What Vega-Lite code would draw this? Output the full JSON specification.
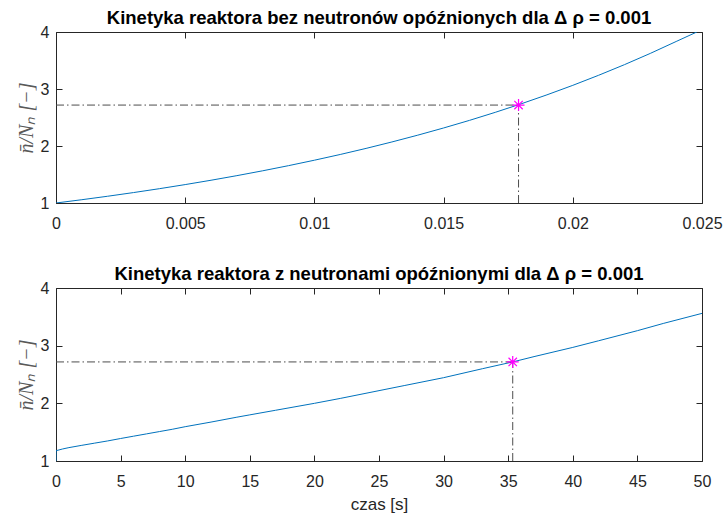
{
  "$schema": "https://vega.github.io/schema/vega-lite/v6.json",
  "background": "white",
  "padding": {"left": 15, "top": 8, "right": 1, "bottom": 4},
  "bounds": "flush",
  "spacing": 85,
  "config": {
    "view": {"stroke": "#262626", "strokeWidth": 1},
    "axis": {
      "labelFont": "Liberation Sans",
      "labelFontSize": 16,
      "labelColor": "#262626",
      "tickColor": "#262626",
      "tickSize": -6,
      "domain": false,
      "grid": false,
      "labelFlush": false,
      "labelOverlap": false,
      "titleFont": "Liberation Serif",
      "titleFontStyle": "italic",
      "titleFontWeight": "normal",
      "titleFontSize": 20,
      "titleColor": "#595959"
    },
    "axisX": {"labelPadding": 18},
    "axisY": {"labelPadding": 13},
    "title": {"font": "Liberation Sans", "fontSize": 18.5, "fontWeight": "bold", "color": "#000000", "offset": -3}
  },
  "datasets": {
    "fast": [
      {"t": 0, "n": 1.0}, {"t": 0.001, "n": 1.0576}, {"t": 0.002, "n": 1.1185}, {"t": 0.003, "n": 1.1829},
      {"t": 0.004, "n": 1.251}, {"t": 0.005, "n": 1.3231}, {"t": 0.006, "n": 1.3993}, {"t": 0.007, "n": 1.4798},
      {"t": 0.008, "n": 1.5651}, {"t": 0.009, "n": 1.6552}, {"t": 0.01, "n": 1.7506}, {"t": 0.011, "n": 1.8514},
      {"t": 0.012, "n": 1.958}, {"t": 0.013, "n": 2.0708}, {"t": 0.014, "n": 2.1901}, {"t": 0.015, "n": 2.3162},
      {"t": 0.016, "n": 2.4495}, {"t": 0.017, "n": 2.5905}, {"t": 0.018, "n": 2.7397}, {"t": 0.019, "n": 2.8975},
      {"t": 0.02, "n": 3.0642}, {"t": 0.021, "n": 3.2408}, {"t": 0.022, "n": 3.4273}, {"t": 0.023, "n": 3.6247},
      {"t": 0.024, "n": 3.8334}, {"t": 0.0248, "n": 4.0}
    ],
    "fastMark": [{"t0": 0, "t": 0.0179, "n0": 1, "n": 2.718}],
    "slow": [
      {"i": 0, "t": 0, "n": 1.0}, {"i": 1, "t": 0, "n": 1.178}, {"i": 2, "t": 0.5, "n": 1.208}, {"i": 3, "t": 1, "n": 1.232},
      {"i": 4, "t": 2, "n": 1.272}, {"i": 5, "t": 3, "n": 1.31}, {"i": 6, "t": 4, "n": 1.348}, {"i": 7, "t": 5, "n": 1.39},
      {"i": 8, "t": 6, "n": 1.43}, {"i": 9, "t": 7, "n": 1.47}, {"i": 10, "t": 8, "n": 1.51}, {"i": 11, "t": 9, "n": 1.55},
      {"i": 12, "t": 10, "n": 1.595}, {"i": 13, "t": 12, "n": 1.675}, {"i": 14, "t": 14, "n": 1.76}, {"i": 15, "t": 15, "n": 1.8},
      {"i": 16, "t": 17, "n": 1.88}, {"i": 17, "t": 20, "n": 2.0}, {"i": 18, "t": 22, "n": 2.085}, {"i": 19, "t": 25, "n": 2.22},
      {"i": 20, "t": 27, "n": 2.31}, {"i": 21, "t": 30, "n": 2.445}, {"i": 22, "t": 33, "n": 2.6}, {"i": 23, "t": 35.35, "n": 2.718},
      {"i": 24, "t": 37, "n": 2.81}, {"i": 25, "t": 40, "n": 2.97}, {"i": 26, "t": 42, "n": 3.085}, {"i": 27, "t": 45, "n": 3.26},
      {"i": 28, "t": 47, "n": 3.385}, {"i": 29, "t": 50, "n": 3.56}
    ],
    "slowMark": [{"t0": 0, "t": 35.35, "n0": 1, "n": 2.718}]
  },
  "vconcat": [
    {
      "width": 646,
      "height": 171,
      "title": "Kinetyka reaktora bez neutronów opóźnionych dla Δ ρ = 0.001",
      "resolve": {"axis": {"x": "independent", "y": "independent"}},
      "layer": [
        {
          "data": {"name": "fast"},
          "mark": {"type": "line", "color": "#0072BD", "strokeWidth": 1, "clip": true},
          "encoding": {
            "x": {"field": "t", "type": "quantitative", "scale": {"domain": [0, 0.025], "nice": false, "zero": false},
                  "axis": {"orient": "bottom", "values": [0, 0.005, 0.01, 0.015, 0.02, 0.025], "format": "~g", "title": null}},
            "y": {"field": "n", "type": "quantitative", "scale": {"domain": [1, 4], "nice": false, "zero": false},
                  "axis": {"orient": "left", "values": [1, 2, 3, 4], "title": "n̄/Nₙ [−]", "titlePadding": 4}}
          }
        },
        {
          "data": {"name": "fastMark"},
          "mark": {"type": "rule", "color": "#4d4d4d", "strokeWidth": 1, "strokeDash": [8, 3, 1.5, 3]},
          "encoding": {
            "x": {"field": "t0", "type": "quantitative", "axis": null},
            "x2": {"field": "t"},
            "y": {"field": "n", "type": "quantitative", "axis": null}
          }
        },
        {
          "data": {"name": "fastMark"},
          "mark": {"type": "rule", "color": "#4d4d4d", "strokeWidth": 1, "strokeDash": [8, 3, 1.5, 3]},
          "encoding": {
            "x": {"field": "t", "type": "quantitative", "axis": null},
            "y": {"field": "n0", "type": "quantitative", "axis": null},
            "y2": {"field": "n"}
          }
        },
        {
          "data": {"name": "fastMark"},
          "mark": {"type": "point", "shape": "M-1,0L1,0M0,-1L0,1M-0.7,-0.7L0.7,0.7M-0.7,0.7L0.7,-0.7", "size": 144, "color": "#FF00FF", "filled": false, "strokeWidth": 1.2, "opacity": 1},
          "encoding": {
            "x": {"field": "t", "type": "quantitative",
                  "axis": {"orient": "top", "values": [0, 0.005, 0.01, 0.015, 0.02, 0.025], "labels": false, "title": null}},
            "y": {"field": "n", "type": "quantitative",
                  "axis": {"orient": "right", "values": [1, 2, 3, 4], "labels": false, "title": null}}
          }
        }
      ]
    },
    {
      "width": 646,
      "height": 173,
      "title": "Kinetyka reaktora z neutronami opóźnionymi dla Δ ρ = 0.001",
      "resolve": {"axis": {"x": "independent", "y": "independent"}},
      "layer": [
        {
          "data": {"name": "slow"},
          "mark": {"type": "line", "color": "#0072BD", "strokeWidth": 1, "clip": true},
          "encoding": {
            "order": {"field": "i", "type": "quantitative"},
            "x": {"field": "t", "type": "quantitative", "scale": {"domain": [0, 50], "nice": false, "zero": false},
                  "axis": {"orient": "bottom", "values": [0, 5, 10, 15, 20, 25, 30, 35, 40, 45, 50], "title": "czas [s]",
                           "titleFont": "Liberation Sans", "titleFontStyle": "normal", "titleFontSize": 17, "titleColor": "#262626", "titlePadding": 7}},
            "y": {"field": "n", "type": "quantitative", "scale": {"domain": [1, 4], "nice": false, "zero": false},
                  "axis": {"orient": "left", "values": [1, 2, 3, 4], "title": "n̄/Nₙ [−]", "titlePadding": 4}}
          }
        },
        {
          "data": {"name": "slowMark"},
          "mark": {"type": "rule", "color": "#4d4d4d", "strokeWidth": 1, "strokeDash": [8, 3, 1.5, 3]},
          "encoding": {
            "x": {"field": "t0", "type": "quantitative", "axis": null},
            "x2": {"field": "t"},
            "y": {"field": "n", "type": "quantitative", "axis": null}
          }
        },
        {
          "data": {"name": "slowMark"},
          "mark": {"type": "rule", "color": "#4d4d4d", "strokeWidth": 1, "strokeDash": [8, 3, 1.5, 3]},
          "encoding": {
            "x": {"field": "t", "type": "quantitative", "axis": null},
            "y": {"field": "n0", "type": "quantitative", "axis": null},
            "y2": {"field": "n"}
          }
        },
        {
          "data": {"name": "slowMark"},
          "mark": {"type": "point", "shape": "M-1,0L1,0M0,-1L0,1M-0.7,-0.7L0.7,0.7M-0.7,0.7L0.7,-0.7", "size": 144, "color": "#FF00FF", "filled": false, "strokeWidth": 1.2, "opacity": 1},
          "encoding": {
            "x": {"field": "t", "type": "quantitative",
                  "axis": {"orient": "top", "values": [0, 5, 10, 15, 20, 25, 30, 35, 40, 45, 50], "labels": false, "title": null}},
            "y": {"field": "n", "type": "quantitative",
                  "axis": {"orient": "right", "values": [1, 2, 3, 4], "labels": false, "title": null}}
          }
        }
      ]
    }
  ]
}
